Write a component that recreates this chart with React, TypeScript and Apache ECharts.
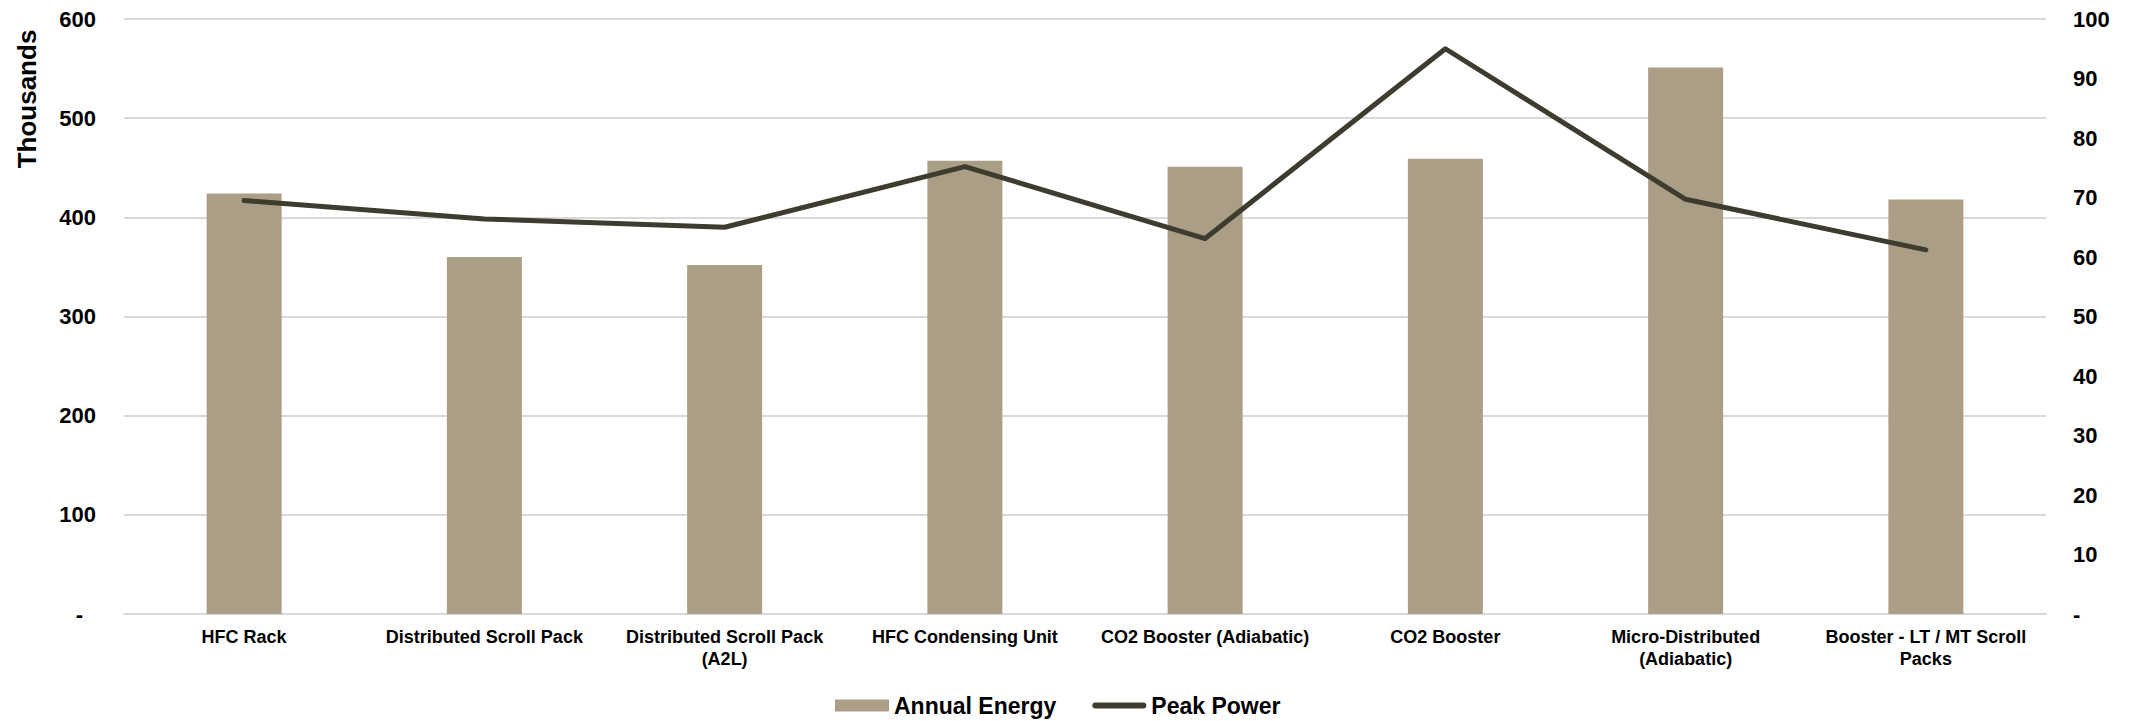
import React, { useEffect, useRef } from "react";
import * as echarts from "echarts";

const categories = [
  "HFC Rack",
  "Distributed Scroll Pack",
  "Distributed Scroll Pack\n(A2L)",
  "HFC Condensing Unit",
  "CO2 Booster (Adiabatic)",
  "CO2 Booster",
  "Micro-Distributed\n(Adiabatic)",
  "Booster - LT / MT Scroll\nPacks",
];
const annualEnergy = [424, 360, 352, 457, 451, 459, 551, 418];
const peakPower = [69.5, 66.4, 65.0, 75.2, 63.1, 95.0, 69.7, 61.2];
const leftTicks = { min: 0, max: 600, interval: 100 };
const rightTicks = { min: 0, max: 100, interval: 10 };

const FONT = "'Liberation Sans', Arial, sans-serif";
const BAR_COLOR = "#ab9e87";
const LINE_COLOR = "#3d3c2e";
const GRID_COLOR = "#d9d9d9";
const LINE_ICON = "path://M3,0 L51,0 A3,3 0 0 1 51,6 L3,6 A3,3 0 0 1 3,0 Z";

export default function App() {
  const ref = useRef<HTMLDivElement>(null);
  useEffect(() => {
    if (!ref.current) return;
    const chart = echarts.init(ref.current, null, { renderer: "svg" });
    chart.setOption({
      animation: false,
      backgroundColor: "#ffffff",
      textStyle: { fontFamily: FONT },
      grid: { left: 124, right: 92, top: 19, bottom: 107 },
      legend: {
        left: 835,
        top: 694,
        padding: 0,
        itemWidth: 54,
        itemHeight: 12,
        itemGap: 36,
        textStyle: { fontFamily: FONT, fontSize: 23, fontWeight: "bold", color: "#000" },
        data: [
          { name: "Annual Energy", icon: "rect", itemStyle: { color: BAR_COLOR } },
          { name: "Peak Power", icon: LINE_ICON, itemStyle: { color: LINE_COLOR } },
        ],
      },
      graphic: [
        {
          type: "text",
          x: 27,
          y: 99,
          rotation: Math.PI / 2,
          style: {
            text: "Thousands",
            fontFamily: FONT,
            fontSize: 26,
            fontWeight: "bold",
            fill: "#000",
            align: "center",
            verticalAlign: "middle",
          },
        },
      ],
      xAxis: {
        type: "category",
        data: categories,
        axisTick: { show: false },
        axisLine: { lineStyle: { color: GRID_COLOR, width: 2 } },
        axisLabel: {
          interval: 0,
          margin: 12,
          fontFamily: FONT,
          fontSize: 18,
          fontWeight: "bold",
          color: "#000",
          lineHeight: 22,
          align: "center",
        },
      },
      yAxis: [
        {
          type: "value",
          min: leftTicks.min,
          max: leftTicks.max,
          interval: leftTicks.interval,
          axisLine: { show: false },
          axisTick: { show: false },
          splitLine: { lineStyle: { color: GRID_COLOR, width: 2 } },
          axisLabel: {
            margin: 28,
            fontFamily: FONT,
            fontSize: 22,
            fontWeight: "bold",
            color: "#000",
            formatter: (v: number) => (v === 0 ? "{z|-}" : String(v)),
            rich: {
              z: { fontFamily: FONT, fontSize: 22, fontWeight: "bold", color: "#000", padding: [0, 13, 0, 0] },
            },
          },
        },
        {
          type: "value",
          min: rightTicks.min,
          max: rightTicks.max,
          interval: rightTicks.interval,
          axisLine: { show: false },
          axisTick: { show: false },
          splitLine: { show: false },
          axisLabel: {
            margin: 27,
            fontFamily: FONT,
            fontSize: 22,
            fontWeight: "bold",
            color: "#000",
            formatter: (v: number) => (v === 0 ? "-" : String(v)),
          },
        },
      ],
      series: [
        {
          name: "Annual Energy",
          type: "bar",
          data: annualEnergy,
          barWidth: 75,
          itemStyle: { color: BAR_COLOR },
          yAxisIndex: 0,
        },
        {
          name: "Peak Power",
          type: "line",
          data: peakPower,
          yAxisIndex: 1,
          symbol: "none",
          lineStyle: { color: LINE_COLOR, width: 5, cap: "round", join: "round" },
          itemStyle: { color: LINE_COLOR },
        },
      ],
    });
    return () => chart.dispose();
  }, []);
  return (
    <div
      ref={ref}
      style={{ position: "fixed", left: 0, top: 0, width: 2138, height: 721 }}
    />
  );
}
